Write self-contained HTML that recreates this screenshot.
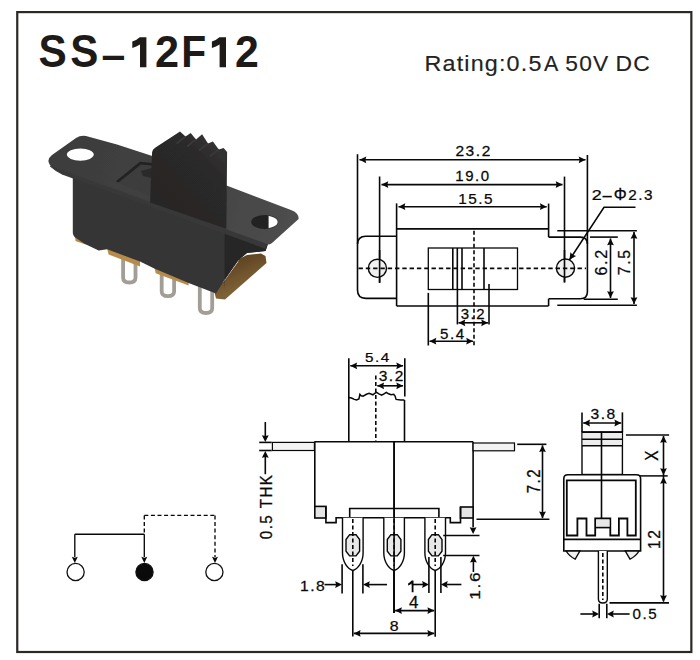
<!DOCTYPE html>
<html><head><meta charset="utf-8"><style>
html,body{margin:0;padding:0;background:#fff;width:700px;height:660px;overflow:hidden}
svg{display:block}
text{font-family:"Liberation Sans",sans-serif}
</style></head><body>
<svg width="700" height="660" viewBox="0 0 700 660">
<rect x="17.25" y="12.1" width="674.1" height="639.9" fill="none" stroke="#2b2826" stroke-width="2.2"/>
<text transform="translate(38.530,67.345) scale(0.42333,0.45493)" font-size="100" font-weight="bold" fill="#1e1a18" stroke="#1e1a18" stroke-width="0.00" letter-spacing="0">S</text>
<text transform="translate(70.235,67.345) scale(0.42167,0.45493)" font-size="100" font-weight="bold" fill="#1e1a18" stroke="#1e1a18" stroke-width="0.00" letter-spacing="0">S</text>
<text transform="translate(101.616,68.760) scale(0.42800,0.43000)" font-size="100" font-weight="bold" fill="#1e1a18" stroke="#1e1a18" stroke-width="0.00" letter-spacing="0">–</text>
<text transform="translate(155.002,67.200) scale(0.43265,0.43857)" font-size="100" font-weight="bold" fill="#1e1a18" stroke="#1e1a18" stroke-width="0.00" letter-spacing="0">2</text>
<text transform="translate(181.344,67.200) scale(0.40800,0.44058)" font-size="100" font-weight="bold" fill="#1e1a18" stroke="#1e1a18" stroke-width="0.00" letter-spacing="0">F</text>
<text transform="translate(234.914,67.200) scale(0.42857,0.43857)" font-size="100" font-weight="bold" fill="#1e1a18" stroke="#1e1a18" stroke-width="0.00" letter-spacing="0">2</text>
<path d="M132.3,41.6 Q137.3,39.6 139.8,37.2 H146.4 V67.2 H140.0 V44.6 Q136.3,46.8 132.3,48.1 Z" fill="#1e1a18"/>
<path d="M211.9,41.6 Q216.9,39.6 219.4,37.2 H226.0 V67.2 H219.6 V44.6 Q215.9,46.8 211.9,48.1 Z" fill="#1e1a18"/>
<text transform="translate(424.508,70.989) scale(0.23344,0.22074)" font-size="100" fill="#222" stroke="#222" stroke-width="0.68" letter-spacing="5">Rating:0.5</text>
<text transform="translate(544.075,70.725) scale(0.21439,0.22971)" font-size="100" fill="#222" stroke="#222" stroke-width="0.70" letter-spacing="0">A</text>
<text transform="translate(565.365,70.598) scale(0.22760,0.22746)" font-size="100" fill="#222" stroke="#222" stroke-width="0.66" letter-spacing="5">50V</text>
<text transform="translate(615.544,70.598) scale(0.22883,0.22746)" font-size="100" fill="#222" stroke="#222" stroke-width="0.66" letter-spacing="5">DC</text>
<defs>
<filter id="soft" x="-5%" y="-5%" width="110%" height="110%"><feGaussianBlur stdDeviation="0.55"/></filter>
<linearGradient id="gplate" gradientUnits="userSpaceOnUse" x1="50" y1="150" x2="300" y2="220">
 <stop offset="0" stop-color="#3c3c3c"/><stop offset="0.55" stop-color="#424242"/><stop offset="1" stop-color="#4e4e4e"/></linearGradient>
<linearGradient id="gyel" gradientUnits="userSpaceOnUse" x1="210" y1="255" x2="230" y2="300">
 <stop offset="0" stop-color="#4e3418"/><stop offset="1" stop-color="#84683a"/></linearGradient>
<linearGradient id="gact" gradientUnits="userSpaceOnUse" x1="160" y1="200" x2="225" y2="140">
 <stop offset="0" stop-color="#282727"/><stop offset="0.6" stop-color="#2a2929"/><stop offset="1" stop-color="#363535"/></linearGradient>
<clipPath id="holeR"><rect x="268.6" y="200" width="20" height="40"/></clipPath>
</defs>
<g filter="url(#soft)">
<path d="M123.10000000000001,258 V277.8 Q123.10000000000001,282.5 129.3,282.5 Q135.5,282.5 135.5,277.8 V258" fill="none" stroke="#a29e96" stroke-width="3.8"/>
<path d="M161.70000000000002,270 V291.5 Q161.70000000000002,296.2 167.9,296.2 Q174.1,296.2 174.1,291.5 V270" fill="none" stroke="#a29e96" stroke-width="3.8"/>
<path d="M199.8,286 V308.3 Q199.8,313.0 206.0,313.0 Q212.2,313.0 212.2,308.3 V286" fill="none" stroke="#a29e96" stroke-width="3.8"/>
<path d="M75,236 L85.5,239.5 L85.5,244.5 L75.5,241 Z" fill="#b48a48"/>
<path d="M107.1,248.5 L140,260.5 L140,266.6 L108.6,254.6 Z" fill="#b68c4c"/>
<path d="M154.3,267 L188.6,280.5 L188.6,285.5 L155.7,273.2 Z" fill="#b68c4c"/>
<path d="M214,290.5 L225,280 L238,262 L239,259 L247,255 L261,253.5 L265.5,256 L266.5,263 L225,299.5 L216,298.5 Z" fill="url(#gyel)"/>
<path d="M72.8,176 L268,243.5 L265.5,251 L247,253 L238.5,260 L225,279 L216,293.5 L188.6,283 L154.3,268.6 L140,261.5 L107.1,249.3 L98.7,250.5 L85,244 L76,238 Q72.8,236 72.8,232 Z" fill="#353535"/>
<path d="M224.6,231 L268,244 L265.5,251 L247,253 L238.5,260 L225,279.5 L224.6,290 Z" fill="#262626"/>
<path d="M49,163 Q47,159 52,155 L76,138 Q80.6,135 86,136 L117,144.6 L153.8,156.4 L226.5,185.6 L291,210 Q299,213 298.6,219 L272,243 Q270,245 266,244.5 L55,168 Q50,166.5 49,163 Z" fill="url(#gplate)"/>
<path d="M50,165.5 L267,244 L266,249 L62,174.5 Q55,171 50,166.5 Z" fill="#383838"/>
<path d="M115.9,181.2 L140,161.8 L152,163 L152,197 Z" fill="#3c3c3c"/>
<path d="M115.9,181.2 L140,161.8 L152,163 L152,165.5 L141,164.5 L118.5,182.5 Z" fill="#222"/>
<path d="M141,171 L152,168 L152,178 L143,176 Z" fill="#2a2a2a"/>
<path d="M152.1,152 Q152.5,149 155.5,147.5 L180,131.4 L185.5,136.5 L190.7,132.9 L196,139.5 L202.1,134.3 L208,143.5 L212.9,141.4 L218.8,149.5 L223.6,147.9 L227.1,152.1 L226.4,229 L150,202.5 Z" fill="url(#gact)"/>
<path d="M185.5,136.5 L176.5,143.5" stroke="#3a3939" stroke-width="1.6" fill="none"/>
<path d="M196,139.5 L187,146.5" stroke="#3a3939" stroke-width="1.6" fill="none"/>
<path d="M208,143.5 L199,150.5" stroke="#3a3939" stroke-width="1.6" fill="none"/>
<path d="M218.8,149.5 L209.8,156.5" stroke="#3a3939" stroke-width="1.6" fill="none"/>
<ellipse cx="80.3" cy="154.6" rx="13.4" ry="6.1" fill="#fff"/>
<ellipse cx="264.7" cy="222" rx="13.5" ry="7" fill="#222"/>
<ellipse cx="264.7" cy="222" rx="13" ry="6.5" fill="#fff" clip-path="url(#holeR)"/>
</g>
<line x1="357.5" y1="154.2" x2="357.5" y2="244" stroke="#080808" stroke-width="1.6"/>
<line x1="587.4" y1="155" x2="587.4" y2="244" stroke="#080808" stroke-width="1.6"/>
<line x1="359.5" y1="159.8" x2="585.5" y2="159.8" stroke="#080808" stroke-width="1.6"/>
<path d="M359.50,159.80 L366.30,156.40 L365.40,159.80 L366.30,163.20Z" fill="#080808"/>
<path d="M585.50,159.80 L578.70,163.20 L579.60,159.80 L578.70,156.40Z" fill="#080808"/>
<line x1="379.6" y1="176.5" x2="379.6" y2="282.8" stroke="#080808" stroke-width="1.6"/>
<line x1="564.5" y1="176.6" x2="564.5" y2="282.4" stroke="#080808" stroke-width="1.6"/>
<line x1="381.5" y1="184.6" x2="562.5" y2="184.6" stroke="#080808" stroke-width="1.6"/>
<path d="M381.50,184.60 L388.30,181.20 L387.40,184.60 L388.30,188.00Z" fill="#080808"/>
<path d="M562.50,184.60 L555.70,188.00 L556.60,184.60 L555.70,181.20Z" fill="#080808"/>
<line x1="396.6" y1="203.4" x2="396.6" y2="306" stroke="#080808" stroke-width="1.6"/>
<line x1="548.6" y1="203.6" x2="548.6" y2="237.1" stroke="#080808" stroke-width="1.6"/>
<line x1="548.6" y1="298.8" x2="548.6" y2="306" stroke="#080808" stroke-width="1.6"/>
<line x1="398.5" y1="206.7" x2="546.7" y2="206.7" stroke="#080808" stroke-width="1.6"/>
<path d="M398.50,206.70 L405.30,203.30 L404.40,206.70 L405.30,210.10Z" fill="#080808"/>
<path d="M546.70,206.70 L539.90,210.10 L540.80,206.70 L539.90,203.30Z" fill="#080808"/>
<line x1="396.6" y1="228.9" x2="548.6" y2="228.9" stroke="#080808" stroke-width="1.6"/>
<line x1="396.6" y1="306" x2="548.6" y2="306" stroke="#080808" stroke-width="1.6"/>
<path d="M396.6,236.3 H365.8 Q357.5,236.3 357.5,244.6 V290 Q357.5,298.4 365.8,298.4 H396.6" fill="none" stroke="#080808" stroke-width="1.6"/>
<path d="M548.6,237.1 H580.4 Q587.4,237.1 587.4,244.1 V291.8 Q587.4,298.8 580.4,298.8 H548.6" fill="none" stroke="#080808" stroke-width="1.6"/>
<circle cx="377.4" cy="268.3" r="9.1" fill="#f0f0f0" stroke="#080808" stroke-width="1.4"/>
<circle cx="565.5" cy="268.1" r="9.1" fill="#f0f0f0" stroke="#080808" stroke-width="1.4"/>
<line x1="379.6" y1="250" x2="379.6" y2="282.8" stroke="#080808" stroke-width="1.6"/>
<line x1="564.5" y1="250" x2="564.5" y2="282.4" stroke="#080808" stroke-width="1.6"/>
<line x1="358.5" y1="268.3" x2="586" y2="268.3" stroke="#080808" stroke-width="1.8" stroke-dasharray="4.4 2.9"/>
<rect x="428.3" y="248" width="89.2" height="41.5" fill="none" stroke="#080808" stroke-width="1.3"/>
<line x1="452.8" y1="248" x2="452.8" y2="289.5" stroke="#080808" stroke-width="1.6"/>
<line x1="457.3" y1="248" x2="457.3" y2="289.5" stroke="#080808" stroke-width="1.6"/>
<line x1="462.0" y1="248" x2="462.0" y2="289.5" stroke="#080808" stroke-width="1.6"/>
<line x1="484.0" y1="248" x2="484.0" y2="289.5" stroke="#080808" stroke-width="1.6"/>
<line x1="474" y1="230.8" x2="474" y2="346" stroke="#080808" stroke-width="1.6" stroke-dasharray="4 2.5"/>
<line x1="457.4" y1="289.5" x2="457.4" y2="324.4" stroke="#080808" stroke-width="1.6"/>
<line x1="489" y1="284" x2="489" y2="324.4" stroke="#080808" stroke-width="1.6"/>
<line x1="458.5" y1="322.8" x2="488" y2="322.8" stroke="#080808" stroke-width="1.6"/>
<path d="M458.50,322.80 L465.30,319.40 L464.40,322.80 L465.30,326.20Z" fill="#080808"/>
<path d="M488.00,322.80 L481.20,326.20 L482.10,322.80 L481.20,319.40Z" fill="#080808"/>
<line x1="428.3" y1="292.9" x2="428.3" y2="345.5" stroke="#080808" stroke-width="1.6"/>
<line x1="429.5" y1="341.2" x2="473" y2="341.2" stroke="#080808" stroke-width="1.6"/>
<path d="M429.50,341.20 L436.30,337.80 L435.40,341.20 L436.30,344.60Z" fill="#080808"/>
<path d="M473.00,341.20 L466.20,344.60 L467.10,341.20 L466.20,337.80Z" fill="#080808"/>
<line x1="557.3" y1="230.8" x2="636.9" y2="230.8" stroke="#080808" stroke-width="1.6"/>
<line x1="590" y1="237.1" x2="617.8" y2="237.1" stroke="#080808" stroke-width="1.6"/>
<line x1="583.7" y1="299.2" x2="617.8" y2="299.2" stroke="#080808" stroke-width="1.6"/>
<line x1="557.3" y1="305.3" x2="636.9" y2="305.3" stroke="#080808" stroke-width="1.6"/>
<line x1="610.5" y1="238.5" x2="610.5" y2="298" stroke="#080808" stroke-width="1.6"/>
<path d="M610.50,238.50 L613.90,245.30 L610.50,244.40 L607.10,245.30Z" fill="#080808"/>
<path d="M610.50,298.00 L607.10,291.20 L610.50,292.10 L613.90,291.20Z" fill="#080808"/>
<line x1="634" y1="232" x2="634" y2="304" stroke="#080808" stroke-width="1.6"/>
<path d="M634.00,232.00 L637.40,238.80 L634.00,237.90 L630.60,238.80Z" fill="#080808"/>
<path d="M634.00,304.00 L630.60,297.20 L634.00,298.10 L637.40,297.20Z" fill="#080808"/>
<path d="M635.5,207.2 H604 L569.5,259.8" fill="none" stroke="#080808" stroke-width="1.6"/>
<path d="M569.50,259.80 L570.39,252.25 L572.74,254.87 L576.07,255.98Z" fill="#080808"/>
<text transform="translate(455.449,155.832) scale(0.15512,0.14296)" font-size="100" fill="#080808" stroke="#080808" stroke-width="1.75" letter-spacing="10">23.2</text>
<text transform="translate(455.325,180.625) scale(0.15000,0.15000)" font-size="100" fill="#080808" stroke="#080808" stroke-width="1.67" letter-spacing="10">19.0</text>
<text transform="translate(458.197,203.723) scale(0.15354,0.15214)" font-size="100" fill="#080808" stroke="#080808" stroke-width="1.64" letter-spacing="10">15.5</text>
<text transform="translate(591.728,199.675) scale(0.17935,0.14786)" font-size="100" fill="#080808" stroke="#080808" stroke-width="1.69" letter-spacing="0">2</text>
<rect x="602.5" y="195.8" width="9.3" height="1.6" fill="#080808"/>
<text transform="translate(613.650,200.375) scale(0.16250,0.16071)" font-size="100" fill="#080808" stroke="#080808" stroke-width="1.56" letter-spacing="0">Φ</text>
<text transform="translate(628.160,199.529) scale(0.15300,0.14577)" font-size="100" fill="#080808" stroke="#080808" stroke-width="1.71" letter-spacing="10">2.3</text>
<text transform="translate(460.724,319.224) scale(0.15033,0.15141)" font-size="100" fill="#080808" stroke="#080808" stroke-width="1.66" letter-spacing="10">3.2</text>
<text transform="translate(440.018,338.923) scale(0.15164,0.15214)" font-size="100" fill="#080808" stroke="#080808" stroke-width="1.65" letter-spacing="10">5.4</text>
<text transform="translate(606.515,275.479) rotate(-90) scale(0.16074,0.15986)" font-size="100" fill="#080808" stroke="#080808" stroke-width="1.56" letter-spacing="10">6.2</text>
<text transform="translate(629.510,275.163) rotate(-90) scale(0.15767,0.16500)" font-size="100" fill="#080808" stroke="#080808" stroke-width="1.59" letter-spacing="10">7.5</text>
<line x1="348.8" y1="358.2" x2="348.8" y2="441.7" stroke="#080808" stroke-width="1.6"/>
<line x1="404.8" y1="358.2" x2="404.8" y2="396.6" stroke="#080808" stroke-width="1.6"/>
<line x1="404.5" y1="400" x2="404.5" y2="441.7" stroke="#080808" stroke-width="1.6"/>
<line x1="350.3" y1="365.8" x2="403.1" y2="365.8" stroke="#080808" stroke-width="1.6"/>
<path d="M350.30,365.80 L357.10,362.40 L356.20,365.80 L357.10,369.20Z" fill="#080808"/>
<path d="M403.10,365.80 L396.30,369.20 L397.20,365.80 L396.30,362.40Z" fill="#080808"/>
<line x1="375.8" y1="375.6" x2="375.8" y2="441.7" stroke="#080808" stroke-width="1.6" stroke-dasharray="4 2.5"/>
<line x1="377.3" y1="385.8" x2="403.1" y2="385.8" stroke="#080808" stroke-width="1.6"/>
<path d="M377.30,385.80 L384.10,382.40 L383.20,385.80 L384.10,389.20Z" fill="#080808"/>
<path d="M403.10,385.80 L396.30,389.20 L397.20,385.80 L396.30,382.40Z" fill="#080808"/>
<path d="M348.7,397.5 L351.5,398 L354.3,399.4 L356.6,399.9 L358.9,398.9 L359.9,394.3 L361.2,395.7 L363.1,396.1 L366.4,394.3 L369.1,393.4 L371.5,394.3 L372.9,394.8 L374.7,393.4 L376.6,392.4 L378.9,393.8 L381.7,395.2 L384,393.8 L386.3,392.4 L388.6,393.8 L391,394.8 L393.7,394.3 L395.1,396.1 L396.1,399.4 L400.7,399.9 L404.4,400" fill="none" stroke="#080808" stroke-width="1.5"/>
<line x1="314.4" y1="441.7" x2="473.1" y2="441.7" stroke="#080808" stroke-width="1.6"/>
<line x1="314.8" y1="441.7" x2="314.8" y2="518" stroke="#080808" stroke-width="1.6"/>
<line x1="473.1" y1="441.7" x2="473.1" y2="527.5" stroke="#080808" stroke-width="1.6"/>
<path d="M473.10,534.00 L469.70,527.20 L473.10,528.10 L476.50,527.20Z" fill="#080808"/>
<rect x="272.4" y="442.4" width="42" height="8.1" fill="#f3f3f3" stroke="#080808" stroke-width="1.2"/>
<rect x="473.1" y="443" width="41.4" height="7.8" fill="#f3f3f3" stroke="#080808" stroke-width="1.2"/>
<rect x="314.8" y="506.4" width="11.1" height="11.6" fill="#e4e4e4" stroke="#080808" stroke-width="1.6"/>
<rect x="460.5" y="507" width="12.6" height="11" fill="#e4e4e4" stroke="#080808" stroke-width="1.6"/>
<path d="M325.9,506.4 V522.6 H336.1 V517.7 H450.3 V522.6 H460.5 V507" fill="none" stroke="#080808" stroke-width="1.6"/>
<path d="M349.7,517.7 V508.5 H438.9 V517.7" fill="none" stroke="#080808" stroke-width="1.6"/>
<line x1="394.1" y1="441.7" x2="394.1" y2="613" stroke="#080808" stroke-width="1.6"/>
<line x1="476.5" y1="519.2" x2="549.4" y2="519.2" stroke="#080808" stroke-width="1.6"/>
<path d="M342.5,517.7 V553 C342.5,562 347.8,569 352.8,570.5 C357.8,569 363.1,562 363.1,553 V517.7" fill="#fff" stroke="#080808" stroke-width="1.4"/>
<path d="M346.0,539.5 L349.6,534.7 H356.0 L359.6,539.5 V551.2 L356.0,555.9 H349.6 L346.0,551.2 Z" fill="#e8e8e8" stroke="#080808" stroke-width="1.4"/>
<line x1="352.8" y1="519" x2="352.8" y2="566" stroke="#080808" stroke-width="1.6" stroke-dasharray="4 2.5"/>
<path d="M383.8,517.7 V553 C383.8,562 389.1,569 394.1,570.5 C399.1,569 404.40000000000003,562 404.40000000000003,553 V517.7" fill="#fff" stroke="#080808" stroke-width="1.4"/>
<path d="M387.3,539.5 L390.90000000000003,534.7 H397.3 L400.90000000000003,539.5 V551.2 L397.3,555.9 H390.90000000000003 L387.3,551.2 Z" fill="#e8e8e8" stroke="#080808" stroke-width="1.4"/>
<line x1="394.1" y1="519" x2="394.1" y2="566" stroke="#080808" stroke-width="1.6" stroke-dasharray="4 2.5"/>
<path d="M424.9,517.7 V553 C424.9,562 430.2,569 435.2,570.5 C440.2,569 445.5,562 445.5,553 V517.7" fill="#fff" stroke="#080808" stroke-width="1.4"/>
<path d="M428.4,539.5 L432.0,534.7 H438.4 L442.0,539.5 V551.2 L438.4,555.9 H432.0 L428.4,551.2 Z" fill="#e8e8e8" stroke="#080808" stroke-width="1.4"/>
<line x1="435.2" y1="519" x2="435.2" y2="566" stroke="#080808" stroke-width="1.6" stroke-dasharray="4 2.5"/>
<line x1="394.1" y1="441.7" x2="394.1" y2="613" stroke="#080808" stroke-width="1.6"/>
<line x1="342.1" y1="564.3" x2="342.1" y2="593.6" stroke="#080808" stroke-width="1.6"/>
<line x1="362.9" y1="564.3" x2="362.9" y2="593.6" stroke="#080808" stroke-width="1.6"/>
<line x1="324.5" y1="584.6" x2="336" y2="584.6" stroke="#080808" stroke-width="1.6"/>
<path d="M342.00,584.60 L335.20,588.00 L336.10,584.60 L335.20,581.20Z" fill="#080808"/>
<line x1="369" y1="584.6" x2="387" y2="584.6" stroke="#080808" stroke-width="1.6"/>
<path d="M363.00,584.60 L369.80,581.20 L368.90,584.60 L369.80,588.00Z" fill="#080808"/>
<line x1="352.8" y1="570.5" x2="352.8" y2="636.4" stroke="#080808" stroke-width="1.6"/>
<line x1="394.1" y1="570.5" x2="394.1" y2="613" stroke="#080808" stroke-width="1.6"/>
<line x1="435.2" y1="570.5" x2="435.2" y2="636.8" stroke="#080808" stroke-width="1.6"/>
<line x1="428.9" y1="557" x2="428.9" y2="592.9" stroke="#080808" stroke-width="1.6"/>
<line x1="440.9" y1="557" x2="440.9" y2="592.9" stroke="#080808" stroke-width="1.6"/>
<line x1="411.7" y1="584.5" x2="423" y2="584.5" stroke="#080808" stroke-width="1.6"/>
<path d="M428.90,584.50 L422.10,587.90 L423.00,584.50 L422.10,581.10Z" fill="#080808"/>
<line x1="447" y1="584.5" x2="461.4" y2="584.5" stroke="#080808" stroke-width="1.6"/>
<path d="M440.90,584.50 L447.70,581.10 L446.80,584.50 L447.70,587.90Z" fill="#080808"/>
<line x1="395.1" y1="610.6" x2="434.2" y2="610.6" stroke="#080808" stroke-width="1.6"/>
<path d="M395.10,610.60 L401.90,607.20 L401.00,610.60 L401.90,614.00Z" fill="#080808"/>
<path d="M434.20,610.60 L427.40,614.00 L428.30,610.60 L427.40,607.20Z" fill="#080808"/>
<line x1="353.8" y1="633.4" x2="434.2" y2="633.4" stroke="#080808" stroke-width="1.6"/>
<path d="M353.80,633.40 L360.60,630.00 L359.70,633.40 L360.60,636.80Z" fill="#080808"/>
<path d="M434.20,633.40 L427.40,636.80 L428.30,633.40 L427.40,630.00Z" fill="#080808"/>
<line x1="443.2" y1="535.5" x2="479.5" y2="535.5" stroke="#080808" stroke-width="1.6"/>
<line x1="443.2" y1="555.5" x2="479.5" y2="555.5" stroke="#080808" stroke-width="1.6"/>
<line x1="473.4" y1="561" x2="473.4" y2="572" stroke="#080808" stroke-width="1.6"/>
<path d="M473.40,555.80 L476.80,562.60 L473.40,561.70 L470.00,562.60Z" fill="#080808"/>
<line x1="259.2" y1="442.4" x2="271.7" y2="442.4" stroke="#080808" stroke-width="1.6"/>
<line x1="259.2" y1="450.5" x2="271.7" y2="450.5" stroke="#080808" stroke-width="1.6"/>
<line x1="265.3" y1="422" x2="265.3" y2="436" stroke="#080808" stroke-width="1.6"/>
<path d="M265.30,442.00 L261.90,435.20 L265.30,436.10 L268.70,435.20Z" fill="#080808"/>
<line x1="265.3" y1="457" x2="265.3" y2="474.2" stroke="#080808" stroke-width="1.6"/>
<path d="M265.30,451.00 L268.70,457.80 L265.30,456.90 L261.90,457.80Z" fill="#080808"/>
<line x1="517.2" y1="444.3" x2="546.4" y2="444.3" stroke="#080808" stroke-width="1.6"/>
<line x1="542.5" y1="445.3" x2="542.5" y2="518.2" stroke="#080808" stroke-width="1.6"/>
<path d="M542.50,445.30 L545.90,452.10 L542.50,451.20 L539.10,452.10Z" fill="#080808"/>
<path d="M542.50,518.20 L539.10,511.40 L542.50,512.30 L545.90,511.40Z" fill="#080808"/>
<text transform="translate(365.116,362.439) scale(0.15230,0.13643)" font-size="100" fill="#080808" stroke="#080808" stroke-width="1.83" letter-spacing="10">5.4</text>
<text transform="translate(378.705,381.428) scale(0.15500,0.14718)" font-size="100" fill="#080808" stroke="#080808" stroke-width="1.70" letter-spacing="10">3.2</text>
<text transform="translate(271.701,539.280) rotate(-90) scale(0.15119,0.17394)" font-size="100" fill="#080808" stroke="#080808" stroke-width="1.65" letter-spacing="10">0.5 THK</text>
<text transform="translate(540.375,493.225) rotate(-90) scale(0.15000,0.17929)" font-size="100" fill="#080808" stroke="#080808" stroke-width="1.67" letter-spacing="10">7.2</text>
<text transform="translate(299.976,590.828) scale(0.15612,0.14718)" font-size="100" fill="#080808" stroke="#080808" stroke-width="1.70" letter-spacing="10">1.8</text>
<path d="M408.1,583.6 Q410.5,582.2 411.7,580.6 H413.5 V592.2 H411.7 V583.4 Q410,584.9 408.1,585.5 Z" fill="#080808" stroke="#080808" stroke-width="0"/>
<text transform="translate(480.021,599.860) rotate(-90) scale(0.17313,0.15423)" font-size="100" fill="#080808" stroke="#080808" stroke-width="1.62" letter-spacing="10">1.6</text>
<text transform="translate(408.886,608.332) scale(0.16961,0.15662)" font-size="100" fill="#080808" stroke="#080808" stroke-width="1.60" letter-spacing="0">4</text>
<text transform="translate(389.791,631.438) scale(0.15851,0.13732)" font-size="100" fill="#080808" stroke="#080808" stroke-width="1.82" letter-spacing="0">8</text>
<rect x="582" y="432.1" width="40.4" height="42.4" fill="#fff" stroke="#080808" stroke-width="1.4"/>
<rect x="582.7" y="432.8" width="39" height="13" fill="#ededed"/>
<line x1="582" y1="432.1" x2="622.4" y2="432.1" stroke="#080808" stroke-width="1.6"/>
<line x1="582" y1="439.2" x2="622.4" y2="439.2" stroke="#080808" stroke-width="1.6"/>
<line x1="582" y1="445.8" x2="622.4" y2="445.8" stroke="#080808" stroke-width="1.6"/>
<line x1="601.5" y1="431.4" x2="601.5" y2="518.5" stroke="#080808" stroke-width="1.6"/>
<line x1="582" y1="412.4" x2="582" y2="432" stroke="#080808" stroke-width="1.6"/>
<line x1="622.4" y1="412.4" x2="622.4" y2="432" stroke="#080808" stroke-width="1.6"/>
<line x1="583.2" y1="423" x2="621.2" y2="423" stroke="#080808" stroke-width="1.6"/>
<path d="M583.20,423.00 L590.00,419.60 L589.10,423.00 L590.00,426.40Z" fill="#080808"/>
<path d="M621.20,423.00 L614.40,426.40 L615.30,423.00 L614.40,419.60Z" fill="#080808"/>
<text transform="translate(590.501,418.633) scale(0.15596,0.14155)" font-size="100" fill="#080808" stroke="#080808" stroke-width="1.77" letter-spacing="10">3.8</text>
<line x1="625.9" y1="435" x2="669.1" y2="435" stroke="#080808" stroke-width="1.5"/>
<line x1="640" y1="475.9" x2="667.7" y2="475.9" stroke="#080808" stroke-width="1.5"/>
<line x1="663.5" y1="436" x2="663.5" y2="601.5" stroke="#080808" stroke-width="1.6"/>
<path d="M663.50,436.00 L666.90,442.80 L663.50,441.90 L660.10,442.80Z" fill="#080808"/>
<path d="M663.50,475.00 L660.10,468.20 L663.50,469.10 L666.90,468.20Z" fill="#080808"/>
<path d="M663.50,477.00 L666.90,483.80 L663.50,482.90 L660.10,483.80Z" fill="#080808"/>
<path d="M663.50,602.00 L660.10,595.20 L663.50,596.10 L666.90,595.20Z" fill="#080808"/>
<line x1="609.5" y1="602.9" x2="669" y2="602.9" stroke="#080808" stroke-width="1.6"/>
<text transform="translate(658.075,460.835) rotate(-90) scale(0.15328,0.17464)" font-size="100" fill="#080808" stroke="#080808" stroke-width="1.63" letter-spacing="0">X</text>
<text transform="translate(660.375,548.916) rotate(-90) scale(0.15509,0.17071)" font-size="100" fill="#080808" stroke="#080808" stroke-width="1.61" letter-spacing="10">12</text>
<path d="M563.8,551 V478.8 Q563.8,474.8 567.8,474.8 H636.6 Q640.6,474.8 640.6,478.8 V551 Z" fill="#fff" stroke="#080808" stroke-width="1.6"/>
<path d="M566.8,535.5 V480.3 H635.8 V535.5 H627.4 V518.5 H618.9 V535.5 H610.3 V518.5 H595.2 V535.5 H586.5 V518.5 H577.4 V535.5 Z" fill="none" stroke="#080808" stroke-width="1.8"/>
<rect x="596" y="519.5" width="13.5" height="7.5" fill="#e6e6e6"/>
<line x1="595.2" y1="527.6" x2="610.3" y2="527.6" stroke="#080808" stroke-width="1.6"/>
<line x1="601.5" y1="474.5" x2="601.5" y2="518.5" stroke="#080808" stroke-width="1.6"/>
<line x1="563.8" y1="539.4" x2="640.6" y2="539.4" stroke="#080808" stroke-width="1.6"/>
<path d="M566.1,551 H579.9 L575.2,559.1 Q569.5,556.5 566.1,551 Z" fill="#f0f0f0" stroke="#080808" stroke-width="1.4"/>
<path d="M639.1,551 H625.3 L630,559.1 Q635.7,556.5 639.1,551 Z" fill="#f0f0f0" stroke="#080808" stroke-width="1.4"/>
<path d="M598.4,551 V599 Q598.4,603 602.85,603 Q607.3,603 607.3,599 V551" fill="#fff" stroke="#080808" stroke-width="1.4"/>
<line x1="602.8" y1="553" x2="602.8" y2="600" stroke="#080808" stroke-width="1.6" stroke-dasharray="4 2.5"/>
<line x1="599.2" y1="603.7" x2="599.2" y2="618.3" stroke="#080808" stroke-width="1.6"/>
<line x1="606.8" y1="603.7" x2="606.8" y2="618.3" stroke="#080808" stroke-width="1.6"/>
<line x1="580.4" y1="614" x2="593" y2="614" stroke="#080808" stroke-width="1.6"/>
<path d="M599.00,614.00 L592.20,617.40 L593.10,614.00 L592.20,610.60Z" fill="#080808"/>
<line x1="613" y1="614" x2="629.6" y2="614" stroke="#080808" stroke-width="1.6"/>
<path d="M607.00,614.00 L613.80,610.60 L612.90,614.00 L613.80,617.40Z" fill="#080808"/>
<text transform="translate(632.520,618.822) scale(0.15132,0.15282)" font-size="100" fill="#080808" stroke="#080808" stroke-width="1.65" letter-spacing="10">0.5</text>
<line x1="74.8" y1="534.2" x2="144.3" y2="534.2" stroke="#080808" stroke-width="1.35"/>
<line x1="74.8" y1="534.2" x2="74.8" y2="557" stroke="#080808" stroke-width="1.35"/>
<path d="M74.80,563.00 L71.80,556.80 L74.80,557.70 L77.80,556.80Z" fill="#080808"/>
<line x1="144.3" y1="534.2" x2="144.3" y2="557" stroke="#080808" stroke-width="1.35"/>
<path d="M144.30,563.00 L141.30,556.80 L144.30,557.70 L147.30,556.80Z" fill="#080808"/>
<line x1="144.3" y1="515.4" x2="144.3" y2="534.2" stroke="#080808" stroke-width="1.35" stroke-dasharray="4 2.6"/>
<line x1="144.3" y1="515.4" x2="215" y2="515.4" stroke="#080808" stroke-width="1.35" stroke-dasharray="4 2.6"/>
<line x1="215" y1="515.4" x2="215" y2="557" stroke="#080808" stroke-width="1.35" stroke-dasharray="4 2.6"/>
<path d="M215.00,563.00 L212.00,556.80 L215.00,557.70 L218.00,556.80Z" fill="#080808"/>
<circle cx="75.6" cy="572" r="8.6" fill="#fff" stroke="#111" stroke-width="1.3"/>
<circle cx="144.5" cy="572" r="8.6" fill="#0a0a0a" stroke="#111" stroke-width="1.3"/>
<circle cx="214.4" cy="572" r="8.6" fill="#fff" stroke="#111" stroke-width="1.3"/>
</svg></body></html>
